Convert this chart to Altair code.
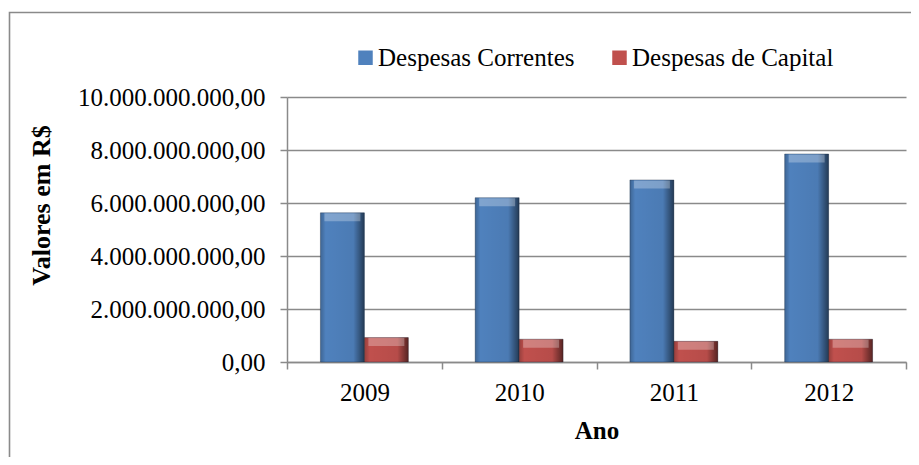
import altair as alt
import pandas as pd

anos = ["2009", "2010", "2011", "2012"]
series = ["Despesas Correntes", "Despesas de Capital"]
correntes = [5.63e9, 6.20e9, 6.87e9, 7.85e9]
capital = [0.92e9, 0.86e9, 0.78e9, 0.86e9]
cores = ["#4F81BD", "#C0504D"]
y_ticks = [0, 2e9, 4e9, 6e9, 8e9, 10e9]

rows = []
for i, a in enumerate(anos):
    rows.append({"ano": a, "serie": series[0], "valor": correntes[i]})
    rows.append({"ano": a, "serie": series[1], "valor": capital[i]})
df = pd.DataFrame(rows)

FONT = "Liberation Serif"
GRID = "#8a8a8a"

x_enc = alt.X(
    "ano:N",
    sort=anos,
    scale=alt.Scale(paddingInner=0, paddingOuter=0),
    axis=alt.Axis(
        title="Ano",
        labelAngle=0,
        tickBand="extent",
        tickSize=7,
        labelPadding=11,
        labelLimit=0,
        titleY=76,
        titleBaseline="alphabetic",
    ),
)
xo_enc = alt.XOffset("serie:N", sort=series, scale=alt.Scale(paddingInner=0, paddingOuter=0.76))
y_enc = alt.Y(
    "valor:Q",
    scale=alt.Scale(domain=[0, 10e9], nice=False),
    axis=alt.Axis(
        title="Valores em R$",
        values=y_ticks,
        tickSize=7,
        labelPadding=15,
        labelLimit=0,
        labelExpr="replace(replace(replace(format(datum.value, ',.2f'), /,/g, '#'), /[.]/g, ','), /#/g, '.')",
        titleX=-238,
        titleY=108,
        titleAngle=270,
        titleAlign="center",
        titleBaseline="alphabetic",
        titleFontSize=26,
    ),
)

bars = alt.Chart(df).mark_bar(stroke="#1f2f45", strokeWidth=0.6, strokeOpacity=0.6).encode(
    x=x_enc,
    xOffset=xo_enc,
    y=y_enc,
    color=alt.Color(
        "serie:N",
        sort=series,
        scale=alt.Scale(domain=series, range=cores),
        legend=alt.Legend(
            title=None,
            orient="none",
            direction="horizontal",
            legendX=66,
            legendY=-52,
            symbolType="square",
            symbolSize=210,
            symbolStrokeWidth=0,
            labelFont=FONT,
            labelFontSize=25,
            labelColor="black",
            labelOffset=0,
            labelLimit=0,
            columnPadding=32,
            padding=0,
        ),
    ),
)

bevel = alt.Chart(df).mark_bar(
    color=alt.Gradient(
        gradient="linear",
        stops=[
            alt.GradientStop(color="rgba(0,0,0,0.22)", offset=0),
            alt.GradientStop(color="rgba(0,0,0,0)", offset=0.12),
            alt.GradientStop(color="rgba(0,0,0,0.05)", offset=0.75),
            alt.GradientStop(color="rgba(0,0,0,0.55)", offset=1),
        ],
        x1=0, x2=1, y1=0, y2=0,
    )
).encode(x=x_enc, xOffset=xo_enc, y=y_enc)

highlight = alt.Chart(df).mark_tick(
    color="white", opacity=0.28, thickness=8, size=36, yOffset=4.5
).encode(x=x_enc, xOffset=xo_enc, y=y_enc)

frame = alt.Chart(pd.DataFrame({"f": [0]})).mark_rect(
    fillOpacity=0, stroke="#8a8a8a", strokeWidth=1.6
).encode(
    x=alt.value(-277.5), x2=alt.value(700), y=alt.value(-84.5), y2=alt.value(500)
)

chart = (
    alt.layer(frame, bars, bevel, highlight)
    .properties(
        width=619,
        height=265,
        autosize=alt.AutoSizeParams(type="none"),
        padding={"left": 279, "top": 89, "right": 5, "bottom": 95},
    )
    .configure_view(stroke=None)
    .configure_axis(
        labelFont=FONT,
        labelFontSize=25,
        labelColor="black",
        titleFont=FONT,
        titleFontSize=25,
        titleFontWeight="bold",
        titleColor="black",
        domainColor=GRID,
        domainWidth=1.5,
        tickColor=GRID,
        tickWidth=1.5,
        gridColor=GRID,
        gridWidth=1.5,
    )
    .configure_axisX(grid=False)
    .configure_axisY(grid=True)
)

chart.save("out.html", embed_options={"renderer": "svg", "actions": False})
